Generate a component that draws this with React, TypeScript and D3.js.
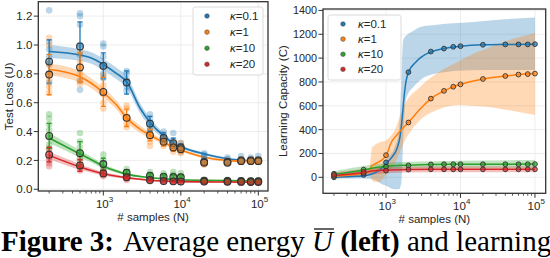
import * as d3 from "d3";
import { useLayoutEffect, useRef, useState } from "react";

// sample sizes used in both panels
const N = [200, 500, 1000, 2000, 4000, 6000, 8000, 10000, 20000, 40000, 60000, 80000, 100000];
const kappas = ["0.1", "1", "10", "20"];
const colors = ["#1f77b4", "#ff7f0e", "#2ca02c", "#d62728"];

// ---- left panel: test loss ----
const lossMed01 = [0.885, 0.99, 0.855, 0.74, 0.455, 0.356, 0.32, 0.29, 0.19, 0.19, 0.2, 0.2, 0.2];
const lossMed1 = [0.795, 0.845, 0.675, 0.495, 0.375, 0.33, 0.29, 0.278, 0.184, 0.184, 0.195, 0.195, 0.195];
const lossMed10 = [0.37, 0.25, 0.175, 0.115, 0.094, 0.087, 0.085, 0.083, 0.06, 0.058, 0.057, 0.056, 0.056];
const lossMed20 = [0.24, 0.165, 0.11, 0.083, 0.064, 0.057, 0.055, 0.054, 0.053, 0.052, 0.051, 0.05, 0.05];

const lossStd01 = [0.15, 0.17, 0.09, 0.08, 0.05, 0.035, 0.035, 0.025, 0.02, 0.01, 0.01, 0.01, 0.01];
const lossStd1 = [0.14, 0.1, 0.1, 0.06, 0.04, 0.03, 0.025, 0.025, 0.015, 0.01, 0.01, 0.01, 0.01];
const lossStd10 = [0.087, 0.08, 0.04, 0.02, 0.015, 0.012, 0.012, 0.012, 0.005, 0.005, 0.004, 0.004, 0.004];
const lossStd20 = [0.05, 0.04, 0.02, 0.012, 0.008, 0.006, 0.005, 0.005, 0.004, 0.004, 0.004, 0.004, 0.004];

const lossRuns01 = [
  [1.24, 1.02, 0.97, 0.92, 0.87, 0.8, 0.74],
  [1.22, 1.2, 1.14, 1.0, 0.93, 0.75, 0.69],
  [1.01, 0.99, 0.92, 0.86, 0.8, 0.77],
  [0.82, 0.8, 0.76, 0.71, 0.68],
  [0.52, 0.49, 0.46, 0.43, 0.41],
  [0.4, 0.38, 0.36, 0.34],
  [0.39, 0.34, 0.31, 0.29],
  [0.32, 0.3, 0.28, 0.26],
  [0.25, 0.24, 0.23, 0.21],
  [0.22, 0.21, 0.2],
  [0.23, 0.21, 0.2],
  [0.22, 0.21, 0.2],
  [0.23, 0.21, 0.2],
];
const lossRuns1 = [
  [1.05, 1.0, 0.86, 0.8, 0.76, 0.71, 0.67],
  [0.95, 0.88, 0.84, 0.8, 0.75, 0.73],
  [0.79, 0.72, 0.66, 0.6, 0.56],
  [0.58, 0.56, 0.5, 0.46, 0.43],
  [0.41, 0.38, 0.36, 0.33, 0.3],
  [0.36, 0.34, 0.32, 0.3],
  [0.32, 0.3, 0.28, 0.26],
  [0.32, 0.3, 0.27, 0.25],
  [0.2, 0.19, 0.18, 0.17],
  [0.2, 0.19, 0.18],
  [0.21, 0.2, 0.19],
  [0.21, 0.2, 0.19],
  [0.21, 0.2, 0.19],
];
const lossRuns10 = [
  [0.52, 0.49, 0.45, 0.41, 0.36, 0.31, 0.28],
  [0.39, 0.33, 0.29, 0.25, 0.21],
  [0.24, 0.2, 0.17, 0.15, 0.13],
  [0.14, 0.12, 0.11, 0.09],
  [0.12, 0.1, 0.09, 0.08],
  [0.11, 0.09, 0.08],
  [0.12, 0.1, 0.08],
  [0.11, 0.09, 0.08],
  [0.065, 0.06, 0.055],
  [0.065, 0.06, 0.055],
  [0.062, 0.058, 0.054],
  [0.062, 0.058, 0.054],
  [0.062, 0.058, 0.054],
];
const lossRuns20 = [
  [0.28, 0.25, 0.22, 0.2, 0.18, 0.16],
  [0.2, 0.17, 0.15, 0.13],
  [0.13, 0.115, 0.1, 0.09],
  [0.095, 0.085, 0.075, 0.065],
  [0.07, 0.065, 0.055],
  [0.062, 0.056, 0.05],
  [0.06, 0.055, 0.05],
  [0.06, 0.055, 0.05],
  [0.056, 0.052, 0.048],
  [0.055, 0.051, 0.047],
  [0.055, 0.051, 0.047],
  [0.055, 0.051, 0.047],
  [0.055, 0.051, 0.047],
];

// fitted curves (left) on a shared grid, with band half-widths
const lossFitN = [200, 500, 700, 1000, 1500, 2000, 3000, 4000, 6000, 8000, 10000, 20000, 40000, 100000];
const lossFit01 = [0.955, 0.93, 0.91, 0.865, 0.8, 0.745, 0.56, 0.465, 0.37, 0.32, 0.295, 0.245, 0.212, 0.196];
const lossFit1 = [0.83, 0.78, 0.735, 0.67, 0.58, 0.495, 0.415, 0.375, 0.325, 0.292, 0.272, 0.222, 0.2, 0.19];
const lossFit10 = [0.355, 0.245, 0.205, 0.16, 0.125, 0.105, 0.088, 0.08, 0.072, 0.068, 0.066, 0.062, 0.06, 0.058];
const lossFit20 = [0.235, 0.155, 0.13, 0.108, 0.09, 0.08, 0.069, 0.063, 0.057, 0.054, 0.053, 0.051, 0.05, 0.049];
const lossBand01 = [0.045, 0.04, 0.04, 0.04, 0.04, 0.04, 0.035, 0.03, 0.02, 0.015, 0.012, 0.01, 0.008, 0.008];
const lossBand1 = [0.04, 0.04, 0.035, 0.035, 0.03, 0.03, 0.025, 0.02, 0.015, 0.012, 0.01, 0.008, 0.008, 0.008];
const lossBand10 = [0.035, 0.025, 0.02, 0.015, 0.012, 0.01, 0.008, 0.006, 0.005, 0.005, 0.005, 0.004, 0.004, 0.004];
const lossBand20 = [0.025, 0.02, 0.015, 0.012, 0.01, 0.008, 0.006, 0.005, 0.004, 0.004, 0.004, 0.004, 0.004, 0.004];

// ---- right panel: learning capacity ----
const capMed01 = [0, 20, 125, 882, 1055, 1080, 1095, 1100, 1112, 1115, 1115, 1115, 1117];
const capMed1 = [10, 35, 186, 460, 660, 725, 760, 780, 825, 850, 862, 866, 870];
const capMed10 = [30, 65, 89, 100, 108, 110, 110, 110, 110, 110, 110, 110, 111];
const capMed20 = [20, 45, 56, 65, 67, 67, 67, 67, 67, 67, 67, 67, 67];

const capFit01: [number, number][] = [
  [200, 0], [400, 8], [600, 22], [800, 55], [1000, 115], [1200, 170], [1400, 240], [1550, 350],
  [1650, 500], [1750, 680], [1850, 800], [2000, 882], [2500, 965], [3000, 1010], [4000, 1052],
  [6000, 1080], [8000, 1093], [10000, 1100], [20000, 1112], [40000, 1115], [100000, 1117],
];
const capFit1: [number, number][] = [
  [200, 10], [400, 25], [600, 50], [640, 95], [700, 110], [800, 130], [900, 150], [1000, 185],
  [1080, 230], [1130, 270], [1400, 355], [1700, 415], [2000, 462], [3000, 585], [4000, 660],
  [6000, 725], [8000, 760], [10000, 780], [20000, 825], [40000, 850], [60000, 862], [100000, 870],
];
const capFit10: [number, number][] = [
  [200, 25], [500, 62], [700, 80], [1000, 92], [2000, 102], [4000, 108], [10000, 110], [100000, 111],
];
const capFit20: [number, number][] = [
  [200, 15], [500, 40], [700, 55], [1000, 60], [2000, 65], [4000, 67], [100000, 67],
];

const capBand01: [number, number, number][] = [
  [200, -10, 15], [500, -10, 40], [700, -20, 60], [900, -60, 110], [1000, -70, 150], [1300, -100, 250],
  [1500, -100, 400], [1600, -50, 800], [1700, 300, 1150], [1800, 600, 1180], [1900, 676, 1193],
  [2340, 760, 1230], [2880, 815, 1262], [4840, 873, 1280], [13600, 899, 1300], [38500, 900, 1325],
  [100000, 900, 1340],
];
const capBand1: [number, number, number][] = [
  [200, -10, 30], [500, 15, 60], [600, 30, 80], [650, -20, 250], [700, -40, 270], [800, -40, 290],
  [1000, 20, 310], [1130, 60, 340], [1300, 110, 390], [1715, 285, 592], [2880, 480, 760],
  [4840, 564, 873], [10000, 606, 980], [13600, 600, 1025], [22700, 592, 1080], [38500, 570, 1137],
  [100000, 522, 1210],
];
const capBand10: [number, number, number][] = [
  [200, -5, 50], [500, 40, 95], [1000, 65, 120], [2000, 75, 130], [10000, 80, 140], [100000, 80, 145],
];
const capBand20: [number, number, number][] = [
  [200, -5, 40], [500, 20, 70], [1000, 35, 85], [2000, 40, 90], [10000, 42, 92], [100000, 42, 92],
];

const lossTicks = [0, 0.2, 0.4, 0.6, 0.8, 1.0, 1.2];
const capTicks = [0, 200, 400, 600, 800, 1000, 1200, 1400];
const decades = [3, 4, 5];

const FONT = "'Liberation Sans', Arial, sans-serif";
const SERIF = "'Liberation Serif', 'Times New Roman', serif";
const INK = "#262626";

type PanelProps = {
  x: d3.ScaleLogarithmic<number, number>;
  y: d3.ScaleLinear<number, number>;
  yTicks: number[];
  yFmt: (v: number) => string;
  yLabel: string;
  yLabelX: number;
  tickSize: number;
  id: string;
  children?: any;
};

function Panel({ x, y, yTicks, yFmt, yLabel, yLabelX, tickSize, id, children }: PanelProps) {
  const [x0, x1] = x.range();
  const [y0, y1] = y.range();
  const lo = x.domain()[0];
  const hi = x.domain()[1];
  const minor: number[] = [];
  for (let e = 2; e <= 5; e++) {
    for (let m = 2; m < 10; m++) {
      const v = m * Math.pow(10, e);
      if (v >= lo && v <= hi) minor.push(v);
    }
  }
  return (
    <g>
      <defs>
        <clipPath id={id}>
          <rect x={x0} y={y1} width={x1 - x0} height={y0 - y1} />
        </clipPath>
      </defs>
      {yTicks.map((t) => (
        <line key={"gy" + t} x1={x0} x2={x1} y1={y(t)} y2={y(t)} stroke="#e8e8e8" strokeWidth={0.8} />
      ))}
      {decades.map((e) => (
        <line key={"gx" + e} x1={x(10 ** e)} x2={x(10 ** e)} y1={y0} y2={y1} stroke="#e8e8e8" strokeWidth={0.8} />
      ))}
      <g clipPath={`url(#${id})`}>{children}</g>
      <rect x={x0} y={y1} width={x1 - x0} height={y0 - y1} fill="none" stroke="#333" strokeWidth={1.3} />
      {yTicks.map((t) => (
        <g key={"ty" + t}>
          <line x1={x0 - 4.5} x2={x0} y1={y(t)} y2={y(t)} stroke="#333" strokeWidth={1} />
          <text x={x0 - 6} y={y(t)} dy="0.36em" textAnchor="end" fontSize={tickSize} fill={INK} fontFamily={FONT}>
            {yFmt(t)}
          </text>
        </g>
      ))}
      {minor.map((v) => (
        <line key={"mx" + v} x1={x(v)} x2={x(v)} y1={y0} y2={y0 + 2.5} stroke="#333" strokeWidth={0.8} />
      ))}
      {decades.map((e) => (
        <g key={"tx" + e}>
          <line x1={x(10 ** e)} x2={x(10 ** e)} y1={y0} y2={y0 + 4.5} stroke="#333" strokeWidth={1} />
          <text x={x(10 ** e) - 1} y={y0 + 17} textAnchor="middle" fontSize={11.5} fill={INK} fontFamily={FONT}>
            10
          </text>
          <text x={x(10 ** e) + 5.5} y={y0 + 11} fontSize={8} fill={INK} fontFamily={FONT}>
            {e}
          </text>
        </g>
      ))}
      <text x={(x0 + x1) / 2} y={y0 + 30} textAnchor="middle" fontSize={11.5} fill={INK} fontFamily={FONT}>
        # samples (N)
      </text>
      <text
        transform={`translate(${yLabelX},${(y0 + y1) / 2}) rotate(-90)`}
        textAnchor="middle"
        fontSize={11.5}
        fill={INK}
        fontFamily={FONT}
      >
        {yLabel}
      </text>
    </g>
  );
}

function Legend({ x, y, w, h, step, mx, tx }: { x: number; y: number; w: number; h: number; step: number; mx: number; tx: number }) {
  return (
    <g>
      <rect x={x} y={y} width={w} height={h} rx={2.5} fill="white" fillOpacity={0.85} stroke="#d0d0d0" strokeWidth={0.8} />
      {kappas.map((k, i) => (
        <g key={k}>
          <circle cx={mx} cy={y + 9 + i * step} r={2.3} fill={colors[i]} stroke="#555" strokeWidth={0.6} />
          <text x={tx} y={y + 9 + i * step} dy="0.36em" fontSize={11.5} fill={INK} fontFamily={FONT}>
            <tspan fontStyle="italic">κ</tspan>={k}
          </text>
        </g>
      ))}
    </g>
  );
}

function Caption() {
  const ref = useRef<SVGTextElement>(null);
  const [bar, setBar] = useState<[number, number] | null>(null);
  useLayoutEffect(() => {
    const t = ref.current;
    if (!t) return;
    const idx = "Figure 3:".length + "Average energy ".length;
    const a = t.getStartPositionOfChar(idx).x;
    const b = t.getEndPositionOfChar(idx).x;
    setBar([a + 2, b + 1]);
  }, []);
  return (
    <g>
      <text ref={ref} y={251} fontFamily={SERIF} fontSize={29} fill="#000">
        <tspan x={1} fontWeight="bold">Figure 3:</tspan>
        <tspan dx={9}>Average energy </tspan>
        <tspan fontStyle="italic">U</tspan>
        <tspan fontWeight="bold"> (left)</tspan>
        <tspan> and learning</tspan>
      </text>
      {bar && <line x1={bar[0]} x2={bar[1]} y1={229} y2={229} stroke="#000" strokeWidth={1.2} />}
    </g>
  );
}

export default function App() {
  // left axes
  const xL = d3.scaleLog().domain([10 ** 2.161, 10 ** 5.125]).range([38.3, 268]);
  const yL = d3.scaleLinear().domain([-0.012, 1.3]).range([191, 1.7]);
  // right axes
  const xR = d3.scaleLog().domain([10 ** 2.154, 10 ** 5.144]).range([323, 545.7]);
  const yR = d3.scaleLinear().domain([-134, 1412]).range([193.3, 9]);

  const lossMed = [lossMed01, lossMed1, lossMed10, lossMed20];
  const lossStd = [lossStd01, lossStd1, lossStd10, lossStd20];
  const lossRuns = [lossRuns01, lossRuns1, lossRuns10, lossRuns20];
  const lossFit = [lossFit01, lossFit1, lossFit10, lossFit20];
  const lossBand = [lossBand01, lossBand1, lossBand10, lossBand20];
  const capMed = [capMed01, capMed1, capMed10, capMed20];
  const capFit = [capFit01, capFit1, capFit10, capFit20];
  const capBand = [capBand01, capBand1, capBand10, capBand20];

  const lineL = d3
    .line<[number, number]>()
    .x((d) => xL(d[0]))
    .y((d) => yL(d[1]))
    .curve(d3.curveMonotoneX);
  const areaL = d3
    .area<[number, number, number]>()
    .x((d) => xL(d[0]))
    .y0((d) => yL(d[1]))
    .y1((d) => yL(d[2]))
    .curve(d3.curveMonotoneX);
  const lineR = d3
    .line<[number, number]>()
    .x((d) => xR(d[0]))
    .y((d) => yR(d[1]))
    .curve(d3.curveMonotoneX);
  const areaR = d3
    .area<[number, number, number]>()
    .x((d) => xR(d[0]))
    .y0((d) => yR(d[1]))
    .y1((d) => yR(d[2]))
    .curve(d3.curveMonotoneX);

  return (
    <svg width={550} height={258} style={{ position: "absolute", left: 0, top: 0, background: "white" }}>
      <Panel x={xL} y={yL} yTicks={lossTicks} yFmt={d3.format(".1f")} yLabel="Test Loss (U)" yLabelX={13} tickSize={11.5} id="clipL">
        {lossFit.map((f, s) => (
          <path
            key={"bandL" + s}
            d={areaL(lossFitN.map((n, i) => [n, f[i] - lossBand[s][i], f[i] + lossBand[s][i]] as [number, number, number])) || ""}
            fill={colors[s]}
            fillOpacity={0.3}
          />
        ))}
        {lossFit.map((f, s) => (
          <path
            key={"lineL" + s}
            d={lineL(lossFitN.map((n, i) => [n, f[i]] as [number, number])) || ""}
            fill="none"
            stroke={colors[s]}
            strokeWidth={1.6}
          />
        ))}
        {lossRuns.map((runs, s) =>
          runs.map((vals, i) =>
            vals.map((v, j) => (
              <circle key={`r${s}-${i}-${j}`} cx={xL(N[i])} cy={yL(v)} r={3.3} fill={colors[s]} fillOpacity={0.3} />
            ))
          )
        )}
        {lossMed.map((m, s) =>
          m.map((v, i) => {
            const cx = xL(N[i]);
            const a = yL(v + lossStd[s][i]);
            const b = yL(v - lossStd[s][i]);
            return (
              <g key={`e${s}-${i}`} stroke={colors[s]} strokeWidth={1.3}>
                <line x1={cx} x2={cx} y1={a} y2={b} />
                <line x1={cx - 2.5} x2={cx + 2.5} y1={a} y2={a} />
                <line x1={cx - 2.5} x2={cx + 2.5} y1={b} y2={b} />
              </g>
            );
          })
        )}
        {lossMed.map((m, s) =>
          m.map((v, i) => (
            <circle key={`m${s}-${i}`} cx={xL(N[i])} cy={yL(v)} r={3.4} fill={colors[s]} fillOpacity={0.5} stroke="#333" strokeWidth={1.1} />
          ))
        )}
      </Panel>
      <Legend x={193} y={7} w={70} h={68} step={16.1} mx={207} tx={230} />

      <Panel x={xR} y={yR} yTicks={capTicks} yFmt={d3.format("d")} yLabel="Learning Capacity (C)" yLabelX={287} tickSize={10.8} id="clipR">
        {capBand.map((b, s) => (
          <path key={"bandR" + s} d={areaR(b) || ""} fill={colors[s]} fillOpacity={0.3} />
        ))}
        {capFit.map((f, s) => (
          <path key={"lineR" + s} d={lineR(f) || ""} fill="none" stroke={colors[s]} strokeWidth={1.5} />
        ))}
        {capMed.map((m, s) =>
          m.map((v, i) => (
            <circle key={`c${s}-${i}`} cx={xR(N[i])} cy={yR(v)} r={2.4} fill={colors[s]} fillOpacity={0.7} stroke="#333" strokeWidth={0.9} />
          ))
        )}
      </Panel>
      <Legend x={328} y={15} w={73} h={65} step={15.1} mx={343} tx={358} />

      <Caption />
    </svg>
  );
}
